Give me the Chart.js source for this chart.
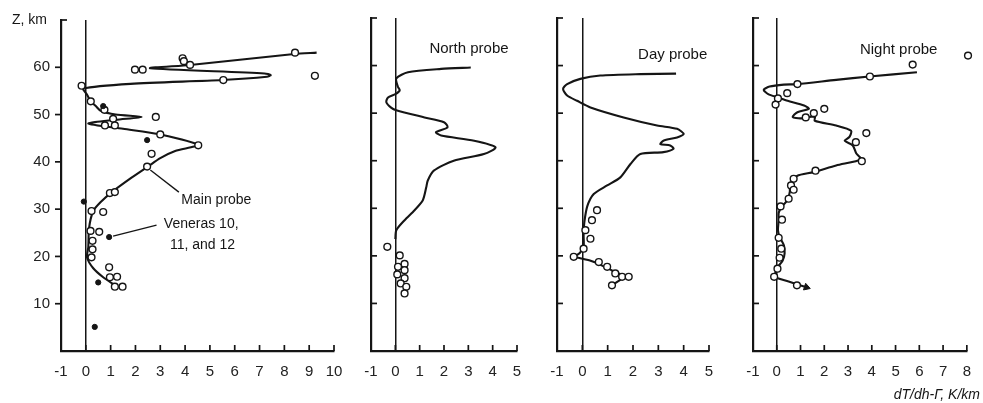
<!DOCTYPE html>
<html><head><meta charset="utf-8">
<script src="https://cdn.jsdelivr.net/npm/chart.js@4"></script>
<style>
html,body{margin:0;padding:0;background:#fff;}
#wrap{position:relative;width:983px;height:403px;overflow:hidden;background:#fff;}
canvas{position:absolute;left:0;top:0;}
</style></head><body>
<div id="wrap">
<canvas id="c1" width="983" height="403"></canvas>
<canvas id="c2" width="983" height="403"></canvas>
<canvas id="c3" width="983" height="403"></canvas>
<canvas id="c4" width="983" height="403"></canvas>
</div>
<script>
// ---------- DATA (dT/dh - Gamma in K/km, altitude Z in km) ----------
const yTickLabels = [10, 20, 30, 40, 50, 60];

// Main probe (Pioneer Venus Large probe) profile
const mainLineV = [1.2, 0.7, 0.3, 0.05, 0.1, 0.13, 0.3, 0.6, 1.1, 1.8, 2.5, 3.0, 3.6, 4.5, 3.0, 1.5, 0.1, 1.2, 2.25, 1.2, 0.6, 0.4, 0.2, 0.05, -0.1, 1.8, 5.5, 7.3, 7.45, 7.2, 2.6, 4.2, 8.4, 9.3];
const mainLineZ = [13.8, 15.6, 17.5, 19.8, 22, 26, 29.6, 31.5, 33.8, 36.5, 39, 40.8, 42.3, 43.6, 45.8, 47.0, 48.1, 48.9, 49.5, 50.0, 50.8, 51.8, 52.8, 54.2, 55.5, 56.5, 57.3, 58.0, 58.35, 58.7, 59.8, 60.5, 62.8, 63.1];
const mainPtsV = [8.43, 3.9, 3.95, 4.2, 1.98, 2.29, 9.23, 5.54, -0.17, 0.2, 0.75, 1.1, 1.17, 0.77, 2.82, 3.0, 4.53, 2.65, 2.47, 0.97, 1.17, 0.23, 0.7, 0.19, 0.54, 0.27, 0.27, 0.23, 0.94, 0.97, 1.26, 1.17, 1.48];
const mainPtsZ = [63.1, 61.9, 61.3, 60.5, 59.5, 59.5, 58.2, 57.3, 56.1, 52.8, 51.0, 49.1, 47.7, 47.7, 49.5, 45.8, 43.5, 41.7, 39.0, 33.4, 33.6, 29.6, 29.4, 25.4, 25.2, 23.3, 21.5, 19.8, 17.7, 15.6, 15.7, 13.6, 13.6];
// Veneras 10, 11 and 12 (filled dots)
const veneraV = [2.47, -0.08, 0.94, 0.5, 0.36, 0.7];
const veneraZ = [44.6, 31.6, 24.1, 14.5, 5.1, 51.8];

// North probe
const northLineV = [0.0, 0.04, 0.38, 0.79, 1.13, 1.27, 1.33, 1.58, 2.4, 3.64, 4.12, 3.24, 1.88, 1.67, 2.15, 2.0, 1.2, 0.04, -0.16, -0.37, -0.3, 0.0, 0.18, 0.1, 0.04, 0.52, 1.88, 3.1];
const northLineZ = [23.5, 25.4, 27.5, 29.6, 31.7, 34.4, 35.8, 37.9, 40.0, 41.4, 42.8, 44.2, 45.3, 46.0, 47.0, 48.1, 49.1, 50.6, 51.1, 52.3, 53.3, 54.0, 54.8, 55.6, 57.3, 58.6, 59.3, 59.6];
const northPtsV = [-0.33, 0.18, 0.38, 0.11, 0.38, 0.08, 0.38, 0.22, 0.45, 0.38];
const northPtsZ = [21.9, 20.1, 18.3, 17.7, 17.0, 16.1, 15.3, 14.2, 13.5, 12.1];

// Day probe
const dayLineV = [-0.34, -0.1, 0.05, 0.05, 0.08, 0.2, 0.45, 0.98, 1.5, 1.9, 2.29, 3.2, 3.6, 3.47, 3.08, 3.2, 3.74, 4.0, 3.74, 2.95, 1.63, 0.32, -0.21, -0.6, -0.76, -0.6, -0.08, 0.71, 2.29, 3.7];
const dayLineZ = [19.8, 20.6, 22.0, 24.4, 27.1, 30.5, 33.0, 34.8, 36.5, 39.3, 41.4, 41.8, 42.5, 43.2, 43.5, 44.2, 44.9, 45.6, 46.7, 47.4, 49.1, 51.2, 52.6, 53.7, 55.1, 56.1, 57.2, 57.9, 58.2, 58.3];
const dayLowV = [-0.34, 0.3, 0.8, 1.3, 1.65, 1.2];
const dayLowZ = [19.8, 19.0, 17.9, 16.6, 15.7, 13.9];
const dayPtsV = [0.58, 0.38, 0.12, 0.32, 0.05, -0.34, 0.65, 0.98, 1.3, 1.57, 1.83, 1.17];
const dayPtsZ = [29.6, 27.5, 25.4, 23.6, 21.5, 19.8, 18.7, 17.7, 16.3, 15.6, 15.6, 13.8];

// Night probe
const nightLineV = [1.25, 0.5, -0.15, -0.05, 0.05, 0.25, 0.33, 0.3, 0.12, 0.05, 0.08, 0.08, 0.2, 0.45, 0.55, 0.55, 0.6, 0.85, 1.55, 2.5, 3.55, 3.35, 3.2, 2.86, 3.06, 3.13, 2.5, 1.6, 1.6, 1.0, 0.67, 0.87, 1.35, 1.15, 0.46, 0.05, -0.36, -0.55, -0.3, 0.3, 0.87, 2.5, 3.9, 5.9];
const nightLineZ = [13.4, 14.6, 15.7, 16.5, 17.7, 19.0, 20.5, 22.2, 24.0, 25.4, 27.5, 29.0, 30.3, 31.7, 33.5, 34.5, 35.4, 36.8, 37.6, 39.0, 40.3, 41.5, 43.2, 44.2, 45.0, 46.3, 47.4, 48.4, 49.3, 48.9, 49.2, 50.2, 50.9, 51.6, 52.6, 53.3, 54.0, 54.9, 55.6, 56.0, 56.1, 57.0, 57.7, 58.6];
const nightPtsV = [8.05, 5.72, 3.92, 0.87, 0.44, 0.05, -0.05, 2.0, 1.56, 1.22, 3.77, 3.33, 3.58, 1.63, 0.71, 0.6, 0.71, 0.5, 0.16, 0.22, 0.08, 0.19, 0.12, 0.03, -0.11, 0.85];
const nightPtsZ = [62.1, 60.2, 57.7, 56.1, 54.2, 53.1, 51.8, 50.9, 50.0, 49.1, 45.8, 43.9, 39.9, 37.9, 36.2, 34.8, 33.9, 32.0, 30.4, 27.6, 23.8, 21.5, 19.6, 17.3, 15.6, 13.8];
const nightArrowV = [1.25];
const nightArrowZ = [13.4];

// ---------- helpers ----------
const INK = '#151515';
const FONT = '"Liberation Sans", "DejaVu Sans", sans-serif';
const pts = (xs, ys) => xs.map((v, i) => ({x: v, y: ys[i]}));

const lineDS = (xs, ys) => ({type: 'scatter', data: pts(xs, ys), showLine: true, pointRadius: 0,
  borderColor: INK, borderWidth: 2.1, tension: 0.25, order: 3, clip: false});
const openDS = (xs, ys) => ({type: 'scatter', data: pts(xs, ys), pointRadius: 3.4, pointHoverRadius: 3.4,
  backgroundColor: '#fff', borderColor: INK, borderWidth: 1.4, order: 1, clip: false});
const fillDS = (xs, ys) => ({type: 'scatter', data: pts(xs, ys), pointRadius: 2.6,
  backgroundColor: INK, borderColor: INK, borderWidth: 1, order: 0, clip: false});

const inkPlugin = {
  id: 'ink',
  afterDraw(chart) {
    const o = chart.options.plugins.ink;
    if (!o) return;
    const ctx = chart.ctx, xs = chart.scales.x, ys = chart.scales.y, a = chart.chartArea;
    ctx.save();
    ctx.strokeStyle = INK; ctx.fillStyle = INK; ctx.lineWidth = 1.7;
    xs.ticks.forEach(t => {
      if (t.value <= xs.min) return;
      const px = xs.getPixelForValue(t.value);
      ctx.beginPath(); ctx.moveTo(px, a.bottom); ctx.lineTo(px, a.bottom - 6); ctx.stroke();
    });
    ys.ticks.forEach(t => {
      if (t.value <= ys.min) return;
      const py = ys.getPixelForValue(t.value);
      const dir = (o.yOut && t.value < ys.max) ? -1 : 1;
      ctx.beginPath(); ctx.moveTo(a.left, py); ctx.lineTo(a.left + dir * 6, py); ctx.stroke();
    });
    (o.leaders || []).forEach(l => {
      ctx.lineWidth = 1.3;
      ctx.beginPath();
      ctx.moveTo(xs.getPixelForValue(l[0]), ys.getPixelForValue(l[1]));
      ctx.lineTo(xs.getPixelForValue(l[2]), ys.getPixelForValue(l[3]));
      ctx.stroke();
    });
    (o.texts || []).forEach(t => {
      ctx.font = (t.style || '') + ' ' + t.size + 'px ' + FONT;
      ctx.textAlign = t.align || 'left';
      ctx.textBaseline = 'middle';
      const px = t.abs ? t.x : xs.getPixelForValue(t.x);
      const py = t.abs ? t.y : ys.getPixelForValue(t.y);
      ctx.fillText(t.text, px, py);
    });
    ctx.restore();
  }
};

function makeChart(id, geom, xmax, datasets, ink, showY) {
  const yW = showY ? geom.left : 10;
  return new Chart(document.getElementById(id), {
    data: {datasets},
    plugins: [inkPlugin],
    options: {
      responsive: false, maintainAspectRatio: false, animation: false,
      events: [],
      layout: {padding: {left: geom.left - yW, right: 983 - geom.right, top: geom.top, bottom: 0}},
      plugins: {legend: {display: false}, tooltip: {enabled: false}, ink},
      scales: {
        x: {
          type: 'linear', position: 'bottom', min: -1, max: xmax,
          afterFit: s => { s.height = 403 - geom.bottom; },
          ticks: {stepSize: 1, padding: 12, color: '#222', font: {family: FONT, size: 15},
            maxRotation: 0, autoSkip: false, callback: v => String(v)},
          grid: {display: true, drawOnChartArea: true, drawTicks: false,
            color: c => (c.tick && c.tick.value === 0) ? INK : 'rgba(0,0,0,0)', lineWidth: 1.5},
          border: {display: true, color: INK, width: 2.2}
        },
        y: {
          type: 'linear', position: 'left', min: 0, max: 70,
          afterFit: s => { s.width = yW; },
          ticks: {display: showY, stepSize: 10, padding: 11, color: '#222', font: {family: FONT, size: 15},
            callback: v => yTickLabels.includes(v) ? String(v) : ''},
          grid: {display: false, drawTicks: false},
          border: {display: true, color: INK, width: 2.2}
        }
      }
    }
  });
}

// ---------- panel geometry (pixels) ----------
const g1 = {left: 61, right: 334, top: 18, bottom: 351};
const g2 = {left: 371, right: 517, top: 18, bottom: 351};
const g3 = {left: 557, right: 709, top: 18, bottom: 351};
const g4 = {left: 753, right: 973, top: 18, bottom: 351};

makeChart('c1', g1, 10, [
  fillDS(veneraV, veneraZ),
  openDS(mainPtsV, mainPtsZ),
  lineDS(mainLineV, mainLineZ)
], {
  yOut: true,
  leaders: [[2.6, 38.3, 3.75, 33.6], [1.1, 24.3, 2.85, 26.6]],
  texts: [
    {text: 'Main probe', x: 3.85, y: 31.8, size: 14},
    {text: 'Veneras 10,', x: 4.65, y: 26.8, size: 14, align: 'center'},
    {text: '11, and 12', x: 4.7, y: 22.4, size: 14, align: 'center'},
    {text: 'Z, km', x: 12, y: 20, abs: true, size: 14}
  ]
}, true);

makeChart('c2', g2, 5, [
  openDS(northPtsV, northPtsZ),
  lineDS(northLineV, northLineZ)
], {texts: [{text: 'North probe', x: 1.4, y: 63.6, size: 15}]}, false);

makeChart('c3', g3, 5, [
  openDS(dayPtsV, dayPtsZ),
  lineDS(dayLineV, dayLineZ),
  lineDS(dayLowV, dayLowZ)
], {texts: [{text: 'Day probe', x: 2.2, y: 62.2, size: 15}]}, false);

makeChart('c4', g4, 8, [
  openDS(nightPtsV, nightPtsZ),
  {type: 'scatter', data: pts(nightArrowV, nightArrowZ), pointStyle: 'triangle', rotation: 108,
   pointRadius: 4, backgroundColor: INK, borderColor: INK, borderWidth: 1, order: 0, clip: false},
  lineDS(nightLineV, nightLineZ)
], {texts: [
  {text: 'Night probe', x: 3.5, y: 63.2, size: 15},
  {text: 'dT/dh-Γ, K/km', x: 980, y: 395, abs: true, size: 14, style: 'italic', align: 'right'}
]}, false);
</script>
</body></html>
